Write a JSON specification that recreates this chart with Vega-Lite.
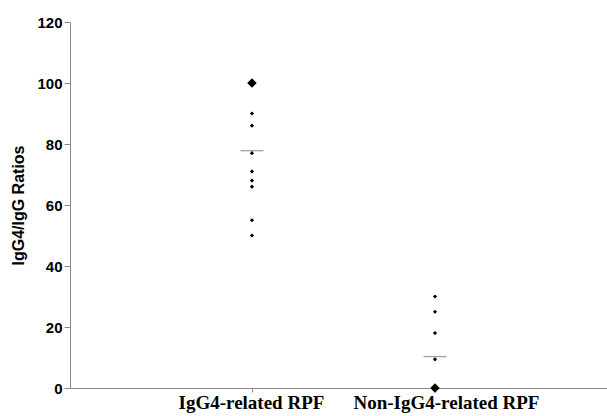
{
  "$schema": "https://vega.github.io/schema/vega-lite/v6.json",
  "width": 537,
  "height": 366,
  "autosize": "none",
  "padding": {"left": 70, "top": 22, "right": 0, "bottom": 28},
  "background": "white",
  "config": {"view": {"stroke": null}},
  "datasets": {
    "points": [
      {"group": "IgG4-related RPF", "ratio": 100, "big": "yes"},
      {"group": "IgG4-related RPF", "ratio": 90, "big": "no"},
      {"group": "IgG4-related RPF", "ratio": 86, "big": "no"},
      {"group": "IgG4-related RPF", "ratio": 77, "big": "no"},
      {"group": "IgG4-related RPF", "ratio": 71, "big": "no"},
      {"group": "IgG4-related RPF", "ratio": 68, "big": "no"},
      {"group": "IgG4-related RPF", "ratio": 66, "big": "no"},
      {"group": "IgG4-related RPF", "ratio": 55, "big": "no"},
      {"group": "IgG4-related RPF", "ratio": 50, "big": "no"},
      {"group": "Non-IgG4-related RPF", "ratio": 30, "big": "no"},
      {"group": "Non-IgG4-related RPF", "ratio": 25, "big": "no"},
      {"group": "Non-IgG4-related RPF", "ratio": 18, "big": "no"},
      {"group": "Non-IgG4-related RPF", "ratio": 9.4, "big": "no"},
      {"group": "Non-IgG4-related RPF", "ratio": 0, "big": "yes"}
    ],
    "means": [
      {"group": "IgG4-related RPF", "mean": 77.8},
      {"group": "Non-IgG4-related RPF", "mean": 10.3}
    ]
  },
  "encoding": {
    "x": {
      "field": "group",
      "type": "nominal",
      "scale": {"type": "point", "padding": 0.967, "align": 0.514, "domain": ["IgG4-related RPF", "Non-IgG4-related RPF"]},
      "axis": {
        "title": null,
        "labelAngle": 0,
        "labelLimit": 0,
        "labelOverlap": false,
        "labelOffset": {"condition": {"test": "datum.value == 'Non-IgG4-related RPF'", "value": 11}, "value": -1},
        "domainColor": "#888888",
        "tickColor": "#888888",
        "tickSize": 4,
        "labelFont": "Liberation Serif",
        "labelFontWeight": "bold",
        "labelFontSize": 19,
        "labelColor": "black",
        "labelPadding": 1
      }
    }
  },
  "layer": [
    {
      "data": {"name": "means"},
      "mark": {"type": "tick", "size": 23, "thickness": 1.3, "color": "#777777"},
      "encoding": {
        "y": {"field": "mean", "type": "quantitative"}
      }
    },
    {
      "data": {"name": "points"},
      "mark": {"type": "point", "shape": "diamond", "filled": true, "color": "black", "opacity": 1},
      "encoding": {
        "y": {
          "field": "ratio",
          "type": "quantitative",
          "scale": {"domain": [0, 120], "nice": false},
          "axis": {
            "title": "IgG4/IgG Ratios",
            "values": [0, 20, 40, 60, 80, 100, 120],
            "grid": false,
            "domainColor": "#888888",
            "tickColor": "#888888",
            "tickSize": 6,
            "labelPadding": 2,
            "labelFont": "Liberation Sans",
            "labelFontWeight": "bold",
            "labelFontSize": 15,
            "labelColor": "black",
            "titleFont": "Liberation Sans",
            "titleFontWeight": "bold",
            "titleFontSize": 16,
            "titleColor": "black",
            "titlePadding": 10
          }
        },
        "size": {
          "field": "big",
          "type": "nominal",
          "scale": {"domain": ["no", "yes"], "range": [18, 90]},
          "legend": null
        }
      }
    }
  ]
}
